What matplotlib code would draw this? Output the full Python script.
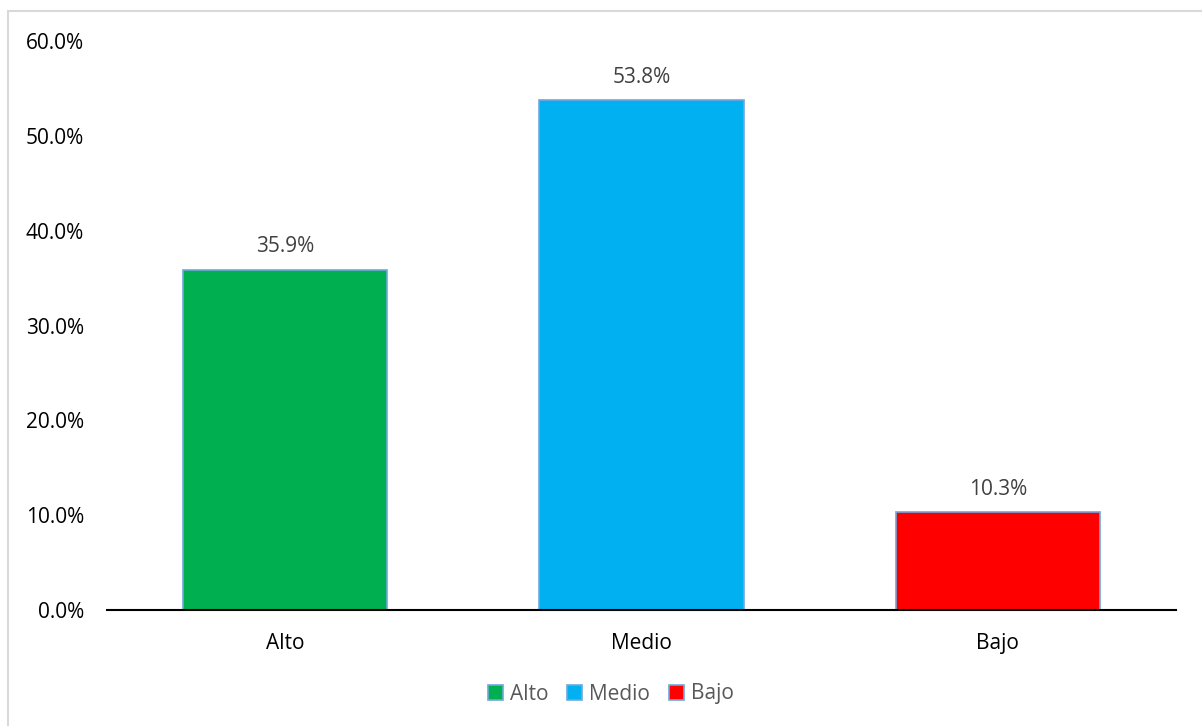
import matplotlib.pyplot as plt
from matplotlib.lines import Line2D
from matplotlib.patches import Patch

categories = ['Alto', 'Medio', 'Bajo']
values = [35.9, 53.8, 10.3]
colors = ['#00B050', '#00B0F0', '#FF0000']
yticks = [0, 10, 20, 30, 40, 50, 60]

plt.rcParams['font.family'] = ['Open Sans', 'DejaVu Sans']
FS = 15

W, H = 1202, 726
fig = plt.figure(figsize=(W / 100, H / 100), dpi=100)
ax = fig.add_axes([107 / W, 1 - 610 / H, (1176 - 107) / W, (610 - 41) / H])

x = range(len(categories))
bars = ax.bar(x, values, width=0.573, color=colors, edgecolor='#6FA8DC', linewidth=1.2, zorder=2)

for b, v in zip(bars, values):
    ax.text(b.get_x() + b.get_width() / 2, v + 2.4, f'{v:.1f}%', ha='center', va='center',
            fontsize=FS, color='#404040')

ax.set_xlim(-0.5, 2.5)
ax.set_ylim(0, 60)
ax.set_yticks(yticks)
ax.set_yticklabels([f'{t:.1f}%' for t in yticks], fontsize=FS, color='black')
ax.set_xticks(list(x))
ax.set_xticklabels(categories, fontsize=FS, color='black')
ax.tick_params(axis='both', length=0)
ax.tick_params(axis='y', pad=16.5)
ax.tick_params(axis='x', pad=16.5)
for s in ['top', 'right', 'left']:
    ax.spines[s].set_visible(False)
ax.spines['bottom'].set_color('black')
ax.spines['bottom'].set_linewidth(1.5)
ax.spines['bottom'].set_zorder(3)

handles = [Patch(facecolor=c, edgecolor='#6FA8DC', linewidth=1.2) for c in colors]
leg = fig.legend(handles, categories, loc='center', bbox_to_anchor=(611 / W, 1 - 694 / H),
                 ncol=3, frameon=False, fontsize=FS, handlelength=0.7, handleheight=0.7,
                 handletextpad=0.35, columnspacing=0.9)
for t in leg.get_texts():
    t.set_color('#595959')

# chart area border (top and left edges)
fig.add_artist(Line2D([7.5 / W, 1], [1 - 10.5 / H, 1 - 10.5 / H], color='#D9D9D9', linewidth=1.5))
fig.add_artist(Line2D([7.5 / W, 7.5 / W], [0, 1 - 10.5 / H], color='#D9D9D9', linewidth=1.5))

fig.savefig('out.png', dpi=100)
